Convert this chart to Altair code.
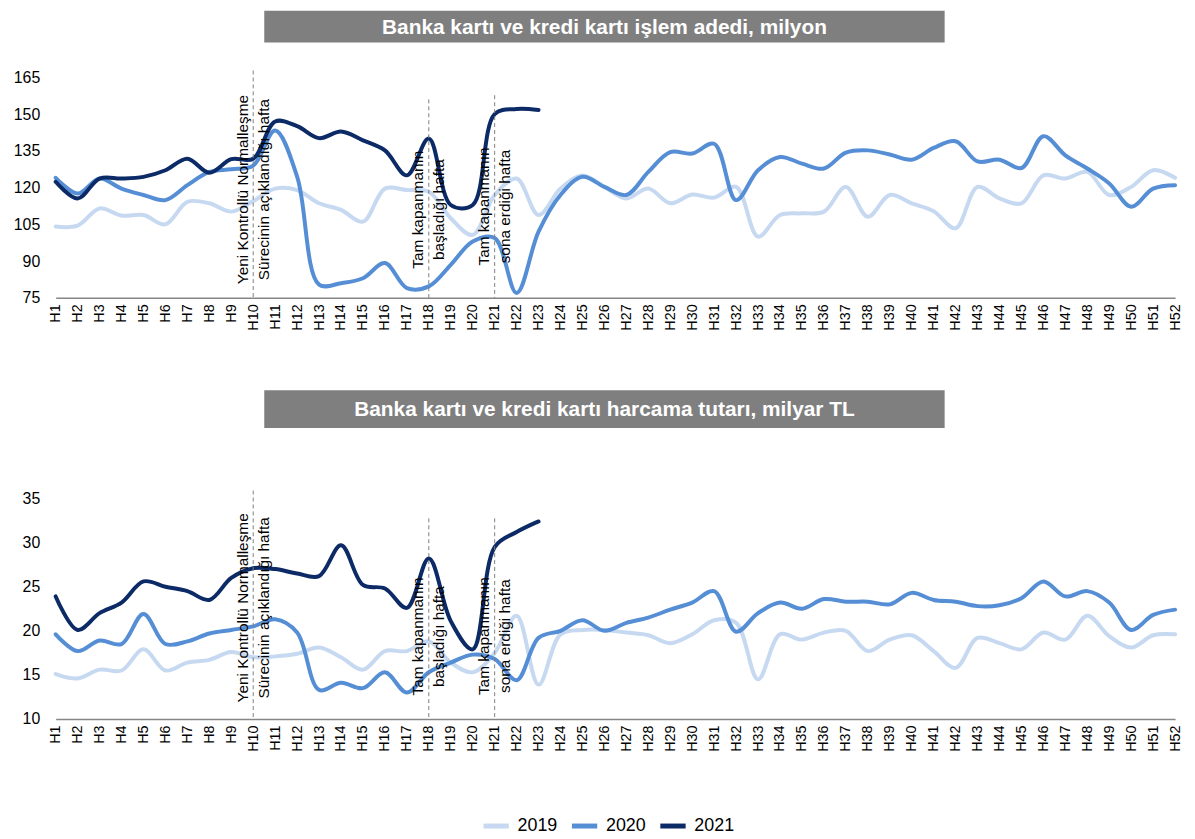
import altair as alt
import pandas as pd

weeks = [f"H{i}" for i in range(1, 53)]

# Top panel: transactions, million
top_2019 = [104.1, 104.5, 111.5, 108.6, 108.8, 105.0, 114.2, 113.6, 110.2, 114.5,
            119.6, 119.0, 113.6, 110.9, 106.1, 119.6, 119.0, 118.3, 107.5, 100.7,
            117.0, 123.7, 108.8, 119.6, 125.0, 120.3, 115.6, 119.6, 113.6, 117.2,
            115.9, 120.3, 100.0, 108.8, 109.5, 110.2, 120.3, 108.1, 117.0, 113.6,
            110.4, 103.4, 120.3, 115.6, 113.6, 125.0, 123.7, 126.4, 117.0, 120.3,
            127.1, 124.0]
top_2020 = [124.0, 117.6, 123.7, 119.6, 117.0, 114.9, 121.0, 126.4, 127.5, 129.0,
            143.3, 124.5, 80.4, 81.0, 83.0, 89.2, 79.0, 79.7, 88.5, 98.0,
            99.4, 77.0, 102.0, 117.0, 124.4, 120.3, 117.0, 126.4, 134.5, 133.9,
            137.9, 114.9, 127.1, 132.5, 129.8, 127.8, 134.3, 135.2, 133.5, 131.4,
            136.2, 138.9, 130.7, 131.4, 128.0, 141.0, 133.2, 127.8, 121.7, 112.2,
            119.6, 121.0]
top_2021 = [122.4, 115.6, 123.7, 123.7, 124.4, 127.1, 131.8, 126.1, 131.6, 131.8,
            147.0, 145.1, 140.2, 142.9, 139.3, 135.2, 125.0, 140.0, 112.9, 112.9,
            150.0, 152.1, 151.7]

# Bottom panel: spending, billion TL
bot_2019 = [15.1, 14.6, 15.6, 15.5, 17.9, 15.5, 16.4, 16.7, 17.6, 17.0,
            17.1, 17.4, 18.1, 17.0, 15.6, 17.7, 17.7, 18.8, 16.4, 15.3,
            17.5, 21.7, 13.9, 19.6, 20.1, 20.1, 19.8, 19.5, 18.6, 19.6,
            21.2, 20.9, 14.5, 19.6, 19.0, 19.8, 20.0, 17.7, 19.0, 19.5,
            17.7, 15.8, 19.2, 18.6, 17.9, 19.8, 19.0, 21.7, 19.4, 18.1,
            19.5, 19.6]
bot_2020 = [19.6, 17.7, 18.9, 18.5, 21.9, 18.5, 18.8, 19.7, 20.1, 20.5,
            21.3, 19.8, 13.3, 14.1, 13.5, 15.3, 13.0, 15.3, 16.4, 17.3,
            16.8, 14.4, 19.2, 20.0, 21.2, 20.0, 20.9, 21.5, 22.4, 23.2,
            24.5, 19.9, 22.0, 23.2, 22.5, 23.6, 23.3, 23.3, 23.0, 24.3,
            23.5, 23.3, 22.8, 22.9, 23.7, 25.6, 23.9, 24.5, 23.2, 20.1,
            21.8, 22.4]
bot_2021 = [23.9, 20.1, 22.0, 23.2, 25.6, 25.0, 24.5, 23.5, 26.0, 27.1,
            27.0, 26.5, 26.2, 29.7, 25.2, 24.8, 22.6, 28.2, 21.1, 17.9,
            29.5, 31.2, 32.4]

years = ["2019", "2020", "2021"]
colors = ["#c6d9f1", "#558ed5", "#0b2a66"]

titles = ["Banka kartı ve kredi kartı işlem adedi, milyon",
          "Banka kartı ve kredi kartı harcama tutarı, milyar TL"]

ann_weeks = ["H10", "H18", "H21"]
ann_texts = [["Yeni Kontrollü Normalleşme", "Sürecinin açıklandığı hafta"],
             ["Tam kapanmanın", "başladığı hafta"],
             ["Tam kapanmanın", "sona erdiği hafta"]]
top_rule_top = [167.8, 156.0, 157.7]
top_text_y = [119.2, 111.0, 112.3]
bot_rule_top = [35.9, 32.75, 32.75]
bot_text_y = [22.6, 19.35, 19.4]

FONT = "Liberation Sans"
W, H = 1127, 222


def long_df(s19, s20, s21):
    rows = []
    for yr, s in zip(years, [s19, s20, s21]):
        for w, v in zip(weeks, s):
            rows.append({"week": w, "year": yr, "value": v})
    return pd.DataFrame(rows)


def panel(df, domain, ticks, rule_top, text_y, title, box_y, show_legend):
    x_axis = alt.Axis(labelAngle=270, labelFontSize=14.5, labelFont=FONT,
                      labelColor="#000000", ticks=False, domainColor="#868686",
                      domainWidth=1.5, labelPadding=6, labelAlign="right",
                      labelBaseline="middle", grid=False, labelOverlap=False)
    x_scale = alt.Scale(type="point", padding=0)
    y_axis = alt.Axis(values=ticks, labelFontSize=16, labelFont=FONT,
                      labelColor="#000000", ticks=False, domain=False,
                      grid=False, labelPadding=16, labelOverlap=False)
    y_scale = alt.Scale(domain=domain, nice=False, zero=False)

    if show_legend:
        legend = alt.Legend(title=None, orient="none", legendX=428, legendY=314,
                            direction="horizontal", symbolType="stroke",
                            symbolStrokeWidth=5, symbolSize=650, labelFontSize=18,
                            labelFont=FONT, labelColor="#000000", labelOffset=6,
                            columnPadding=3)
    else:
        legend = None
    color = alt.Color("year:N", scale=alt.Scale(domain=years, range=colors),
                      legend=legend)
    lines = alt.Chart(df).mark_line(strokeWidth=4, interpolate="catmull-rom",
                                    strokeCap="round", strokeJoin="round").encode(
        x=alt.X("week:N", sort=weeks, title=None, scale=x_scale, axis=x_axis),
        y=alt.Y("value:Q", title=None, scale=y_scale, axis=y_axis),
        color=color, order=alt.Order("year:N"))

    ann = pd.DataFrame({
        "week": ann_weeks,
        "top": rule_top,
        "base": [domain[0]] * 3,
        "ty": text_y,
        "label": ann_texts,
    })
    rules = alt.Chart(ann).mark_rule(color="#7f7f7f", strokeDash=[4, 3],
                                     strokeWidth=1).encode(
        x=alt.X("week:N", sort=weeks, title=None, scale=x_scale, axis=x_axis),
        y=alt.Y("top:Q", title=None, scale=y_scale, axis=y_axis),
        y2="base:Q")
    texts = alt.Chart(ann).mark_text(angle=270, align="center", baseline="middle",
                                     fontSize=15.5, font=FONT, color="#000000",
                                     lineHeight=21, dy=-10.5).encode(
        x=alt.X("week:N", sort=weeks, title=None, scale=x_scale, axis=x_axis),
        y=alt.Y("ty:Q", title=None, scale=y_scale, axis=y_axis),
        text="label")

    box_df = pd.DataFrame({"t": [title]})
    box = alt.Chart(box_df).mark_rect(color="#7f7f7f").encode(
        x=alt.value(210), x2=alt.value(895),
        y=alt.value(box_y[0]), y2=alt.value(box_y[1]))
    box_text = alt.Chart(box_df).mark_text(color="#ffffff", fontSize=21,
                                           fontWeight="bold", font=FONT,
                                           align="center", baseline="middle").encode(
        x=alt.value(552.5), y=alt.value((box_y[0] + box_y[1]) / 2 + 1), text="t:N")

    return alt.layer(box, box_text, lines, rules, texts).properties(width=W, height=H)


top = panel(long_df(top_2019, top_2020, top_2021), [75, 165],
            [75, 90, 105, 120, 135, 150, 165], top_rule_top, top_text_y,
            titles[0], (-67, -35), False)
bottom = panel(long_df(bot_2019, bot_2020, bot_2021), [10, 35],
               [10, 15, 20, 25, 30, 35], bot_rule_top, bot_text_y,
               titles[1], (-109, -71), True)

chart = alt.vconcat(top, bottom, spacing=60).resolve_scale(
    color="independent"
).properties(
    padding={"left": 5, "top": 0, "right": 5, "bottom": 5}
).configure_view(stroke=None)

chart.save("out.html", embed_options={"renderer": "svg", "actions": False})
